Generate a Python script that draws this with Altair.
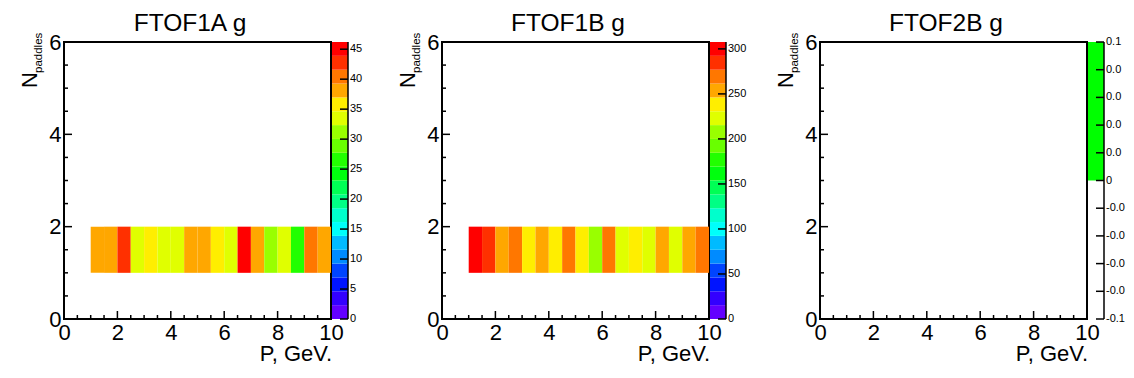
import altair as alt
import pandas as pd

FONT = "Liberation Sans"

# ---------------- data ----------------
titles = ["FTOF1A g", "FTOF1B g", "FTOF2B g"]
x_title = "P, GeV."
y_title_main = "N"
y_title_sub = "paddles"

# histogram bin edges (P, GeV.) and N_paddles bin
p_lo = [1.0, 1.5, 2.0, 2.5, 3.0, 3.5, 4.0, 4.5, 5.0, 5.5, 6.0, 6.5, 7.0, 7.5, 8.0, 8.5, 9.0, 9.5]
p_hi = [1.5, 2.0, 2.5, 3.0, 3.5, 4.0, 4.5, 5.0, 5.5, 6.0, 6.5, 7.0, 7.5, 8.0, 8.5, 9.0, 9.5, 10.0]
n_lo = 1
n_hi = 2

counts_1a = [38, 38, 43, 33, 36, 33, 33, 38, 38, 36, 33, 44, 38, 31, 33, 26, 40, 38]
counts_1b = [293, 285, 254, 270, 238, 254, 238, 270, 238, 208, 270, 223, 238, 223, 254, 223, 254, 270]
counts_2b = []

# colour-bar ranges and tick labels
z_min = [0, 0, -0.1]
z_max = [46.2, 307.65, 0.1]
z_ticks = [
    [0, 5, 10, 15, 20, 25, 30, 35, 40, 45],
    [0, 50, 100, 150, 200, 250, 300],
    [-0.1, -0.08, -0.06, -0.04, -0.02, 0, 0.02, 0.04, 0.06, 0.08, 0.1],
]
# empty-histogram colour band of the third pad
band3_lo = [0]
band3_hi = [0.1]

x_major = [0, 2, 4, 6, 8, 10]
x_minor = [0.5, 1, 1.5, 2.5, 3, 3.5, 4.5, 5, 5.5, 6.5, 7, 7.5, 8.5, 9, 9.5]
y_major = [0, 2, 4, 6]
y_minor = [0.5, 1, 1.5, 2.5, 3, 3.5, 4.5, 5, 5.5]

# ROOT "pretty" rainbow palette, 20 contour levels
palette = [
    "#6300ff", "#3300ff", "#0014ff", "#0044ff", "#008bff",
    "#00bbff", "#00fffb", "#00ffcc", "#00ff85", "#00ff55",
    "#00ff0e", "#22ff00", "#69ff00", "#99ff00", "#e0ff00",
    "#ffee00", "#ffa700", "#ff7700", "#ff3000", "#ff0000",
]
band3_color = "#00ff00"

# ---------------- layout ----------------
W, H = 267, 277
CB0, CB1 = W + 1, W + 17
MAJ, MIN = 8, 4
Y_TOP = 6  # top of the N_paddles axis; the colour bar spans the full frame height
LABEL_LIMIT = [0, 0, 20]  # the last pad's colour-bar labels run into the canvas edge

xs = alt.Scale(domain=[0, 10], nice=False, zero=False)
ys = alt.Scale(domain=[0, Y_TOP], nice=False, zero=False)
xaxis = alt.Axis(values=x_major, ticks=False, domain=False, grid=False, title=None,
                 labelFontSize=22, labelFont=FONT, labelColor="black", labelPadding=3,
                 labelFlush=False, labelOverlap=False, orient="bottom")
yaxis = alt.Axis(values=y_major, ticks=False, domain=False, grid=False, title=None,
                 labelFontSize=22, labelFont=FONT, labelColor="black", labelPadding=3,
                 labelFlush=False, labelOverlap=False, orient="left")


def text_layer(txt, x, y, size, align="center", angle=0, baseline="alphabetic"):
    return alt.Chart(pd.DataFrame({"t": [txt]})).mark_text(
        font=FONT, fontSize=size, align=align, baseline=baseline, angle=angle, color="black"
    ).encode(text="t:N", x=alt.value(x), y=alt.value(y))


def zpos(expr, i):
    """map a colour-bar value onto the frame height"""
    return f"(({expr}) - ({z_min[i]})) / (({z_max[i]}) - ({z_min[i]})) * {Y_TOP}"


def pad(i, counts):
    layers = [
        alt.Chart(pd.DataFrame({"v": x_major})).mark_rule(color="black", strokeWidth=1.5).encode(
            x=alt.X("v:Q", scale=xs, axis=xaxis), y=alt.value(H), y2=alt.value(H - MAJ)),
        alt.Chart(pd.DataFrame({"v": x_minor})).mark_rule(color="black", strokeWidth=1.5).encode(
            x=alt.X("v:Q", scale=xs, axis=xaxis), y=alt.value(H), y2=alt.value(H - MIN)),
        alt.Chart(pd.DataFrame({"v": y_major})).mark_rule(color="black", strokeWidth=1.5).encode(
            y=alt.Y("v:Q", scale=ys, axis=yaxis), x=alt.value(0), x2=alt.value(MAJ)),
        alt.Chart(pd.DataFrame({"v": y_minor})).mark_rule(color="black", strokeWidth=1.5).encode(
            y=alt.Y("v:Q", scale=ys, axis=yaxis), x=alt.value(0), x2=alt.value(MIN)),
    ]
    cscale = alt.Scale(type="quantize", domain=[z_min[i], z_max[i]], range=palette, nice=False)
    if counts:
        df = pd.DataFrame({"p_lo": p_lo, "p_hi": p_hi, "n_lo": [n_lo] * len(p_lo),
                           "n_hi": [n_hi] * len(p_lo), "count": counts})
        layers.append(
            alt.Chart(df).mark_rect().encode(
                x=alt.X("p_lo:Q", scale=xs, axis=xaxis), x2="p_hi:Q",
                y=alt.Y("n_lo:Q", scale=ys, axis=yaxis), y2="n_hi:Q",
                color=alt.Color("count:Q", scale=cscale, legend=None),
            )
        )
        # colour bar: 20 contour bands
        layers.append(
            alt.Chart(alt.sequence(0, 20, as_="k")).transform_calculate(
                mid=f"{z_min[i]} + (datum.k+0.5)*({z_max[i]}-{z_min[i]})/20",
                y0=zpos(f"{z_min[i]} + datum.k*({z_max[i]}-{z_min[i]})/20", i),
                y1=zpos(f"{z_min[i]} + (datum.k+1)*({z_max[i]}-{z_min[i]})/20", i),
            ).mark_rect().encode(
                y=alt.Y("y0:Q", scale=ys, axis=yaxis), y2="y1:Q",
                x=alt.value(CB0), x2=alt.value(CB1),
                color=alt.Color("mid:Q", scale=cscale, legend=None),
            )
        )
    else:
        layers.append(
            alt.Chart(pd.DataFrame({"lo": band3_lo, "hi": band3_hi})).transform_calculate(
                y0=zpos("datum.lo", i), y1=zpos("datum.hi", i),
            ).mark_rect(color=band3_color).encode(
                y=alt.Y("y0:Q", scale=ys, axis=yaxis), y2="y1:Q",
                x=alt.value(CB0), x2=alt.value(CB1),
            )
        )
    tick_df = pd.DataFrame({"v": z_ticks[i]})
    label_kw = dict(font=FONT, fontSize=11, align="left", baseline="middle", color="black")
    if LABEL_LIMIT[i]:
        label_kw.update(limit=LABEL_LIMIT[i], ellipsis="\u200b")
    layers += [
        # colour-bar right edge
        alt.Chart(pd.DataFrame({"a": [z_min[i]], "b": [z_max[i]]})).transform_calculate(
            y0=zpos("datum.a", i), y1=zpos("datum.b", i),
        ).mark_rule(color="black", strokeWidth=1.5).encode(
            y=alt.Y("y0:Q", scale=ys, axis=yaxis), y2="y1:Q", x=alt.value(CB1)),
        # colour-bar ticks
        alt.Chart(tick_df).transform_calculate(yv=zpos("datum.v", i)).mark_rule(
            color="black", strokeWidth=1.5).encode(
            y=alt.Y("yv:Q", scale=ys, axis=yaxis), x=alt.value(CB1 - 8), x2=alt.value(CB1)),
        # colour-bar labels
        alt.Chart(tick_df).transform_calculate(
            yv=zpos("datum.v", i), lbl="toString(datum.v)").mark_text(**label_kw).encode(
            y=alt.Y("yv:Q", scale=ys, axis=yaxis), x=alt.value(CB1 + 2), text="lbl:N"),
    ]
    layers += [
        text_layer(titles[i], 126, -11, 24.5),
        text_layer(x_title, W + 1, H + 42, 22, align="right"),
        text_layer(y_title_main, -27, 46, 22, align="left", angle=270),
        text_layer(y_title_sub, -22, 31, 11.5, align="left", angle=270),
    ]
    return alt.layer(*layers).properties(width=W, height=H)


chart = alt.hconcat(
    pad(0, counts_1a), pad(1, counts_1b), pad(2, counts_2b),
    spacing=378 - W, bounds="flush",
).resolve_scale(color="independent").properties(
    padding={"left": 10, "top": 2, "right": 0, "bottom": 0}, background="white"
).configure_view(stroke="black", strokeWidth=2)

chart.save("out.html", embed_options={"renderer": "svg", "actions": False})
